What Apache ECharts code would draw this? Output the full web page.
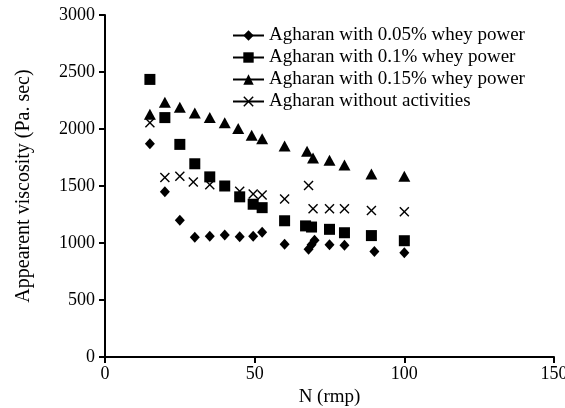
<!DOCTYPE html>
<html>
<head>
<meta charset="utf-8">
<script src="https://cdn.jsdelivr.net/npm/echarts@6/dist/echarts.min.js"></script>
<style>
  html, body { margin: 0; padding: 0; background: #fff; }
  #main { width: 565px; height: 408px; }
</style>
</head>
<body>
<div id="main"></div>
<script>
// series names
var names = [
  'Agharan with 0.05% whey power',
  'Agharan with 0.1% whey power',
  'Agharan with 0.15% whey power',
  'Agharan without activities'
];

// 0.05% whey
var rpm005 = [15, 20, 25, 30, 35, 40, 45, 49.5, 52.5, 60, 68, 69, 70, 75, 80, 90, 100];
var visc005 = [1870, 1450, 1200, 1050, 1060, 1070, 1055, 1060, 1095, 990, 945, 985, 1025, 985, 980, 925, 915];

// 0.1% whey
var rpm01 = [15, 20, 25, 30, 35, 40, 45, 49.5, 52.5, 60, 67, 69, 75, 80, 89, 100];
var visc01 = [2435, 2100, 1865, 1695, 1580, 1500, 1405, 1340, 1310, 1195, 1150, 1140, 1120, 1090, 1065, 1020];

// 0.15% whey
var rpm015 = [15, 20, 25, 30, 35, 40, 44.5, 49, 52.5, 60, 67.5, 69.5, 75, 80, 89, 100];
var visc015 = [2130, 2235, 2190, 2140, 2100, 2055, 2005, 1945, 1915, 1850, 1805, 1745, 1725, 1685, 1605, 1585];

// without activities
var rpmNone = [15, 20, 25, 29.5, 35, 45, 49.5, 52.5, 60, 68, 69.5, 75, 80, 89, 100];
var viscNone = [2055, 1575, 1585, 1535, 1510, 1455, 1430, 1420, 1385, 1505, 1300, 1300, 1300, 1285, 1275];

var crossPath = 'path://M0,1L1,0L5,4L9,0L10,1L6,5L10,9L9,10L5,6L1,10L0,9L4,5Z';
var font = 'Liberation Serif';

function pairs(xs, ys) {
  return xs.map(function (x, i) { return [x, ys[i]]; });
}

function mkSeries(name, xs, ys, symbol, size) {
  return {
    name: name,
    type: 'line',
    data: pairs(xs, ys),
    symbol: symbol,
    symbolSize: size,
    showSymbol: true,
    showAllSymbol: true,
    itemStyle: { color: '#000', opacity: 1 },
    lineStyle: { opacity: 0, width: 0 },
    emphasis: { disabled: true },
    animation: false
  };
}

var chart = echarts.init(document.getElementById('main'), null, { renderer: 'canvas' });

var axisCommon = {
  axisLine: { lineStyle: { color: '#000', width: 2 } },
  axisTick: { inside: false, length: 6, lineStyle: { color: '#000', width: 2 } },
  splitLine: { show: false },
  nameTextStyle: { color: '#000', fontFamily: font, fontSize: 19 }
};

var option = {
  backgroundColor: '#fff',
  animation: false,
  grid: { left: 105, right: 11, top: 15, bottom: 51, containLabel: false, outerBoundsMode: 'none' },
  legend: {
    orient: 'vertical',
    left: 227,
    top: 20,
    itemWidth: 31,
    itemHeight: 13,
    itemGap: 1,
    data: names,
    textStyle: { color: '#000', fontFamily: font, fontSize: 19, lineHeight: 21 },
    lineStyle: { color: '#000', width: 2, opacity: 1, type: 'solid' },
    itemStyle: { color: '#000' }
  },
  xAxis: Object.assign({}, axisCommon, {
    type: 'value',
    min: 0,
    max: 150,
    interval: 50,
    name: 'N (rmp)',
    nameLocation: 'middle',
    nameGap: 30,
    axisLabel: { color: '#000', fontFamily: font, fontSize: 18, margin: 8 }
  }),
  yAxis: Object.assign({}, axisCommon, {
    type: 'value',
    min: 0,
    max: 3000,
    interval: 500,
    name: 'Appearent viscosity (Pa. sec)',
    nameLocation: 'middle',
    nameGap: 71,
    nameTextStyle: { color: '#000', fontFamily: font, fontSize: 20 },
    axisLabel: {
      color: '#000', fontFamily: font, fontSize: 18, margin: 10,
      formatter: function (v) { return String(v); }
    }
  }),
  series: [
    mkSeries(names[0], rpm005, visc005, 'diamond', [10, 11]),
    mkSeries(names[1], rpm01, visc01, 'rect', 11),
    mkSeries(names[2], rpm015, visc015, 'triangle', [12, 11]),
    mkSeries(names[3], rpmNone, viscNone, crossPath, 10)
  ]
};

chart.setOption(option);
</script>
</body>
</html>
